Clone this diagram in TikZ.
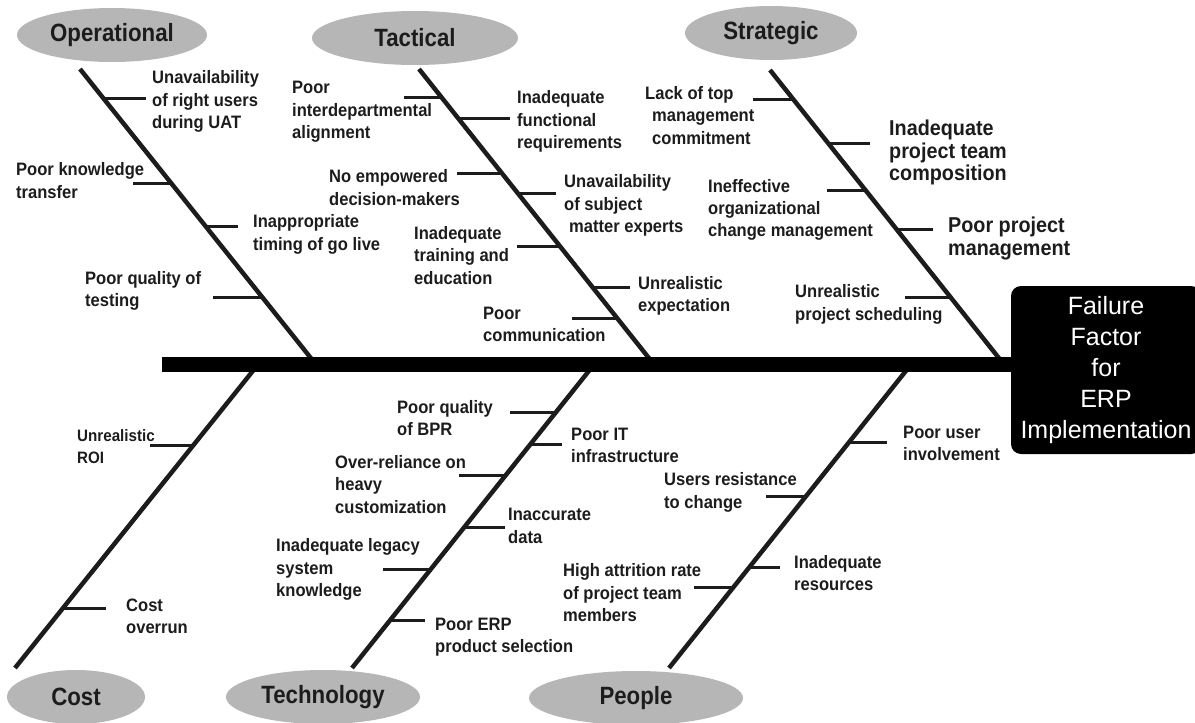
\documentclass[tikz,border=0pt]{standalone}
\usepackage{fontspec}
\setmainfont{Liberation Sans}
\newfontfamily\lblfont{Liberation Sans}[FakeStretch=0.92]
\newfontfamily\catfont{Liberation Sans}[FakeStretch=0.89]
\usetikzlibrary{calc,shapes.geometric}
\definecolor{catgray}{RGB}{182,182,182}
\definecolor{ink}{RGB}{28,28,28}
\newcommand\btick[4]{\draw[tickline] let \p1=(#1), \p2=(#2), \n1={((-#3pt)-(\y1))/((\y2)-(\y1))} in ({(\x1)+\n1*((\x2)-(\x1))},{-#3pt}) -- (#4,#3);}
\begin{document}
\begin{tikzpicture}[x=1pt,y=-1pt,
  cat/.style={ellipse, fill=catgray, inner sep=0pt, minimum height=54pt, text=ink, font=\catfont\bfseries\fontsize{25}{28}\selectfont},
  lbl/.style={anchor=west, inner sep=0pt, align=left, text=ink, font=\lblfont\bfseries\fontsize{18}{22.3}\selectfont},
  lblbig/.style={lbl, font=\lblfont\bfseries\fontsize{21.5}{22.6}\selectfont},
  lblsmall/.style={lbl, font=\lblfont\bfseries\fontsize{16.5}{22}\selectfont},
  bone/.style={line width=4.5pt, draw=ink},
  tickline/.style={line width=3pt, draw=ink},
  spine/.style={line width=15pt, draw=black},
  head/.style={rectangle, rounded corners=10pt, fill=black, text=white, align=center, minimum width=190pt, minimum height=168pt, inner sep=0pt, font=\fontsize{25}{31}\selectfont}]
\useasboundingbox (0,0) rectangle (1195,723);
\clip (0,0) rectangle (1195,723);

% category ellipses
\node[cat, minimum width=190pt] (op) at (112,35) {Operational};
\node[cat, minimum width=206pt] (tac) at (415,38) {Tactical};
\node[cat, minimum width=172pt] (str) at (771,33) {Strategic};
\node[cat, minimum width=138pt] (cost) at (76,697) {Cost};
\node[cat, minimum width=194pt] (tech) at (323,697) {Technology};
\node[cat, minimum width=214pt] (ppl) at (636,698) {People};

% head
\node[head] (headbox) at (1106,370) {Failure\\Factor\\for\\ERP\\Implementation};

% bone coordinates
\coordinate (opT) at (80,69);    \coordinate (opB) at (315.6,364);
\coordinate (tacT) at (419,69);  \coordinate (tacB) at (653.6,364);
\coordinate (strT) at (770,70);  \coordinate (strB) at (1003.6,364);
\coordinate (costT) at (257.6,365); \coordinate (costB) at (15,668);
\coordinate (techT) at (593.6,365); \coordinate (techB) at (352,668);
\coordinate (pplT) at (910.6,365);  \coordinate (pplB) at (669,668);

\draw[bone] (opT) -- (opB);
\draw[bone] (tacT) -- (tacB);
\draw[bone] (strT) -- (strB);
\draw[bone] (costT) -- (costB);
\draw[bone] (techT) -- (techB);
\draw[bone] (pplT) -- (pplB);

% spine
\coordinate (spL) at (162,364.5);
\draw[spine] (spL) -- (spL -| headbox.west);

% Operational
\btick{opT}{opB}{98}{146}
\btick{opT}{opB}{183}{133}
\btick{opT}{opB}{226}{238}
\btick{opT}{opB}{297}{213}
\node[lbl] (o1) at (152,101.5) {Unavailability\\of right users\\during UAT};
\node[lbl] (o2) at (16,180.5) {Poor knowledge\\transfer};
\node[lbl] (o3) at (253,234.5) {Inappropriate\\timing of go live};
\node[lbl] (o4) at (85,291) {Poor quality of\\testing};

% Tactical
\btick{tacT}{tacB}{97}{404}
\btick{tacT}{tacB}{118}{510}
\btick{tacT}{tacB}{173}{457}
\btick{tacT}{tacB}{193}{556}
\btick{tacT}{tacB}{246}{517}
\btick{tacT}{tacB}{287}{630}
\btick{tacT}{tacB}{318}{572}
\node[lbl] (t1) at (292,112) {Poor\\interdepartmental\\alignment};
\node[lbl] (t2) at (517,121.5) {Inadequate\\functional\\requirements};
\node[lbl] (t3) at (329,187.5) {No empowered\\decision-makers};
\node[lbl] (t4) at (564,205.5) {Unavailability\\of subject\\\hspace*{5pt}matter experts};
\node[lbl] (t5) at (414,255.5) {Inadequate\\training and\\education};
\node[lbl] (t6) at (638,296) {Unrealistic\\expectation};
\node[lbl] (t7) at (483,324.5) {Poor\\communication};

% Strategic
\btick{strT}{strB}{99}{753}
\btick{strT}{strB}{143}{870}
\btick{strT}{strB}{190}{827}
\btick{strT}{strB}{229}{933}
\btick{strT}{strB}{297}{905}
\node[lbl] (s1) at (645,115.5) {Lack of top\\\hspace*{7pt}management\\\hspace*{7pt}commitment};
\node[lblbig] (s2) at (889,152.5) {Inadequate\\project team\\composition};
\node[lbl] (s3) at (708,209.7) {Ineffective\\organizational\\change management};
\node[lblbig] (s4) at (948,238.5) {Poor project\\management};
\node[lbl] (s5) at (795,304.5) {Unrealistic\\project scheduling};

% Cost
\btick{costT}{costB}{445}{150}
\btick{costT}{costB}{608}{106}
\node[lblsmall] (c1) at (77,447) {Unrealistic\\ROI};
\node[lbl] (c2) at (126,616) {Cost\\overrun};

% Technology
\btick{techT}{techB}{412}{510}
\btick{techT}{techB}{444}{562}
\btick{techT}{techB}{475}{459}
\btick{techT}{techB}{527}{505}
\btick{techT}{techB}{569}{383}
\btick{techT}{techB}{620}{425}
\node[lbl] (e1) at (397,418) {Poor quality\\of BPR};
\node[lbl] (e2) at (571,445.5) {Poor IT\\infrastructure};
\node[lbl] (e3) at (335,484.5) {Over-reliance on\\heavy\\customization};
\node[lbl] (e4) at (508,526) {Inaccurate\\data};
\node[lbl] (e5) at (276,569.5) {Inadequate legacy\\system\\knowledge};
\node[lbl] (e6) at (435,637) {Poor ERP\\product selection};

% People
\btick{pplT}{pplB}{442}{887}
\btick{pplT}{pplB}{496}{766}
\btick{pplT}{pplB}{567}{780}
\btick{pplT}{pplB}{587}{694}
\node[lbl] (p1) at (903,443.5) {Poor user\\involvement};
\node[lbl] (p2) at (664,492.5) {Users resistance\\to change};
\node[lbl] (p3) at (794,573) {Inadequate\\resources};
\node[lbl] (p4) at (563,592.7) {High attrition rate\\of project team\\members};
\end{tikzpicture}
\end{document}
